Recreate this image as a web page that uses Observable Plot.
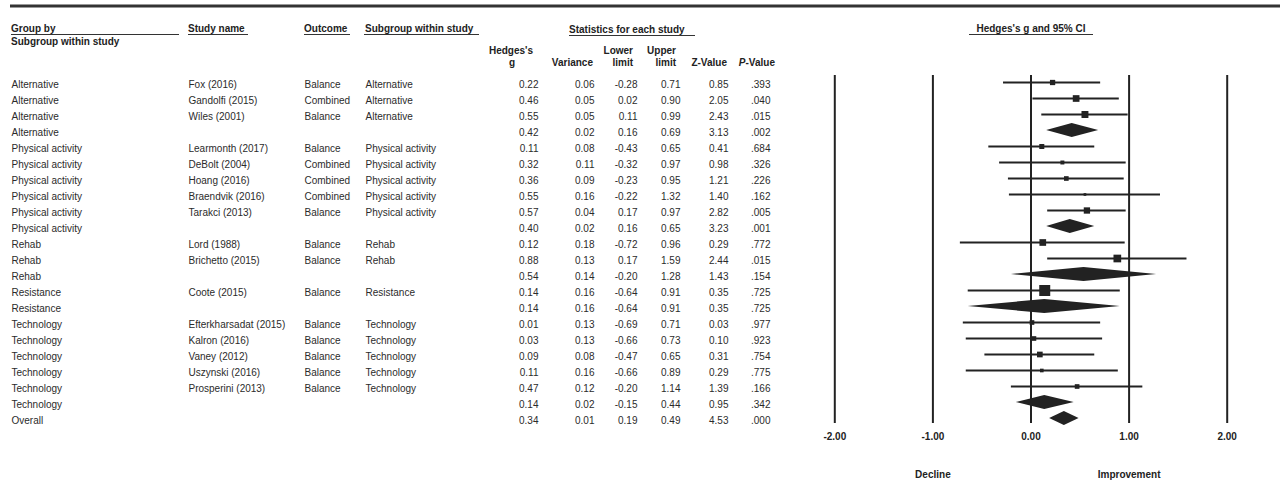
<!DOCTYPE html>
<html><head><meta charset="utf-8">
<script src="https://cdn.jsdelivr.net/npm/d3@7"></script>
<script src="https://cdn.jsdelivr.net/npm/@observablehq/plot@0.6"></script>
<style>body{margin:0;background:#fff}</style>
</head><body><div id="chart"></div>
<script>
// ---- data ----
const groups = ["Alternative","Alternative","Alternative","Alternative",
  "Physical activity","Physical activity","Physical activity","Physical activity","Physical activity","Physical activity",
  "Rehab","Rehab","Rehab","Resistance","Resistance",
  "Technology","Technology","Technology","Technology","Technology","Technology","Overall"];
const studies = ["Fox (2016)","Gandolfi (2015)","Wiles (2001)","",
  "Learmonth (2017)","DeBolt (2004)","Hoang (2016)","Braendvik (2016)","Tarakci (2013)","",
  "Lord (1988)","Brichetto (2015)","","Coote (2015)","",
  "Efterkharsadat (2015)","Kalron (2016)","Vaney (2012)","Uszynski (2016)","Prosperini (2013)","",""];
const outcomes = ["Balance","Combined","Balance","",
  "Balance","Combined","Combined","Combined","Balance","",
  "Balance","Balance","","Balance","",
  "Balance","Balance","Balance","Balance","Balance","",""];
const subgroups = ["Alternative","Alternative","Alternative","",
  "Physical activity","Physical activity","Physical activity","Physical activity","Physical activity","",
  "Rehab","Rehab","","Resistance","",
  "Technology","Technology","Technology","Technology","Technology","",""];
const hedgesG = [0.22,0.46,0.55,0.42,0.11,0.32,0.36,0.55,0.57,0.40,0.12,0.88,0.54,0.14,0.14,0.01,0.03,0.09,0.11,0.47,0.14,0.34];
const variances = [0.06,0.05,0.05,0.02,0.08,0.11,0.09,0.16,0.04,0.02,0.18,0.13,0.14,0.16,0.16,0.13,0.13,0.08,0.16,0.12,0.02,0.01];
const lowerLimits = [-0.28,0.02,0.11,0.16,-0.43,-0.32,-0.23,-0.22,0.17,0.16,-0.72,0.17,-0.20,-0.64,-0.64,-0.69,-0.66,-0.47,-0.66,-0.20,-0.15,0.19];
const upperLimits = [0.71,0.90,0.99,0.69,0.65,0.97,0.95,1.32,0.97,0.65,0.96,1.59,1.28,0.91,0.91,0.71,0.73,0.65,0.89,1.14,0.44,0.49];
const zValues = [0.85,2.05,2.43,3.13,0.41,0.98,1.21,1.40,2.82,3.23,0.29,2.44,1.43,0.35,0.35,0.03,0.10,0.31,0.29,1.39,0.95,4.53];
const pValues = [0.393,0.040,0.015,0.002,0.684,0.326,0.226,0.162,0.005,0.001,0.772,0.015,0.154,0.725,0.725,0.977,0.923,0.754,0.775,0.166,0.342,0.000];
// relative weight (%) within subgroup, estimated from the square sizes
const weights = [23,37,40,null,21,13,18,6,33,null,37,49,null,100,null,18,18,27,11,18,null,null];
const xTicks = [-2,-1,0,1,2];
const directionLabels = ["Decline","Improvement"];
const directionAt = [-1,1];

// ---- build table ----
const rows = groups.map((grp,i)=>({
  row:i, group:grp, study:studies[i], outcome:outcomes[i], subgroup:subgroups[i],
  g:hedgesG[i], variance:variances[i], lower:lowerLimits[i], upper:upperLimits[i],
  z:zValues[i], p:pValues[i], weight:weights[i], summary: studies[i]===""
}));
const studyRows = rows.filter(d=>!d.summary);
const summaryRows = rows.filter(d=>d.summary);
const H = 0.4375; // diamond half height in rows
const diamondPts = summaryRows.flatMap(d=>[
  {row:d.row, y:d.row-H, x1:d.g, x2:d.g},
  {row:d.row, y:d.row, x1:d.lower, x2:d.upper},
  {row:d.row, y:d.row+H, x1:d.g, x2:d.g}
]);
const directions = directionLabels.map((l,i)=>({label:l, x:directionAt[i]}));

const f2 = d=>d.toFixed(2);
const fp = d=>d.toFixed(3).replace(/^0/,"");
const ink = "#222";

const colText = (key, dx, anchor, fmt) => Plot.text(rows, {
  y:"row", text: fmt ? d=>fmt(d[key]) : key, frameAnchor:"left", dx, dy:2,
  textAnchor: anchor, fontSize:10
});

const chart = Plot.plot({
  width:1280, height:482,
  marginLeft:0, marginRight:0, marginTop:75, marginBottom:59,
  style:{fontFamily:"'Liberation Sans', Arial, sans-serif", fontSize:"10px", color:"#2b2b2b", background:"#fff"},
  x:{domain:[-2,2], range:[834.3,1226.7], axis:null},
  y:{domain:[0,21], range:[82,418], axis:null},
  r:{type:"sqrt", domain:[0,100], range:[0,6.2]},
  marks:[
    Plot.ruleX(xTicks, {x:d=>d, stroke:ink, strokeWidth:2}),
    Plot.ruleY(studyRows, {y:"row", x1:"lower", x2:"upper", stroke:ink, strokeWidth:2}),
    Plot.dot(studyRows, {x:"g", y:"row", r:"weight", symbol:"square", fill:ink, stroke:null}),
    Plot.areaX(diamondPts, {y:"y", x1:"x1", x2:"x2", z:"row", fill:ink, curve:"linear"}),
    Plot.text(xTicks, {x:d=>d, text:f2, frameAnchor:"bottom", dy:16, fontWeight:"bold", fontSize:10, fill:ink}),
    Plot.text(directions, {x:"x", text:"label", frameAnchor:"bottom", dy:54, fontWeight:"bold", fontSize:10, fill:ink}),
    colText("group", 11, "start"),
    colText("study", 188, "start"),
    colText("outcome", 304, "start"),
    colText("subgroup", 365, "start"),
    Plot.text(rows, {y:"row", text:d=>f2(d.g), frameAnchor:"left", dx:538, dy:2, textAnchor:"end", fontSize:10}),
    Plot.text(rows, {y:"row", text:d=>f2(d.variance), frameAnchor:"left", dx:594, dy:2, textAnchor:"end", fontSize:10}),
    Plot.text(rows, {y:"row", text:d=>f2(d.lower), frameAnchor:"left", dx:637, dy:2, textAnchor:"end", fontSize:10}),
    Plot.text(rows, {y:"row", text:d=>f2(d.upper), frameAnchor:"left", dx:680, dy:2, textAnchor:"end", fontSize:10}),
    Plot.text(rows, {y:"row", text:d=>f2(d.z), frameAnchor:"left", dx:728, dy:2, textAnchor:"end", fontSize:10}),
    Plot.text(rows, {y:"row", text:d=>fp(d.p), frameAnchor:"left", dx:770, dy:2, textAnchor:"end", fontSize:10})
  ]
});
document.getElementById("chart").appendChild(chart);

// ---- table header decoration ----
const svg = d3.select(chart);
const deco = svg.append("g").attr("fill", ink).attr("font-weight","bold").attr("font-size",10);
svg.append("line").attr("x1",10).attr("x2",1280).attr("y1",6).attr("y2",6).attr("stroke","#333").attr("stroke-width",3);
const headers = [
  {t:"Group by", x:11, y:32, a:"start", u:[11,179]},
  {t:"Subgroup within study", x:11, y:45, a:"start"},
  {t:"Study name", x:188, y:32, a:"start", u:[188,248]},
  {t:"Outcome", x:304, y:32, a:"start", u:[304,350]},
  {t:"Subgroup within study", x:365, y:32, a:"start", u:[364,479]},
  {t:"Statistics for each study", x:569, y:33, a:"start", u:[569,695]},
  {t:"Hedges's", x:511, y:54, a:"middle"},
  {t:"g", x:512, y:66, a:"middle"},
  {t:"Variance", x:593, y:66, a:"end"},
  {t:"Lower", x:633, y:54, a:"end"},
  {t:"limit", x:633, y:66, a:"end"},
  {t:"Upper", x:676, y:54, a:"end"},
  {t:"limit", x:676, y:66, a:"end"},
  {t:"Z-Value", x:727, y:66, a:"end"},
  {t:"Hedges's g and 95% CI", x:1031, y:32, a:"middle", u:[969,1093]}
];
headers.forEach(h=>{
  deco.append("text").attr("x",h.x).attr("y",h.y).attr("text-anchor",h.a).text(h.t);
  if (h.u) svg.append("line").attr("x1",h.u[0]).attr("x2",h.u[1]).attr("y1",h.y+2.5).attr("y2",h.y+2.5)
    .attr("stroke","#333").attr("stroke-width",1);
});
const pv = deco.append("text").attr("x",775).attr("y",66).attr("text-anchor","end");
pv.append("tspan").attr("font-style","italic").text("P");
pv.append("tspan").text("-Value");
</script></body></html>
